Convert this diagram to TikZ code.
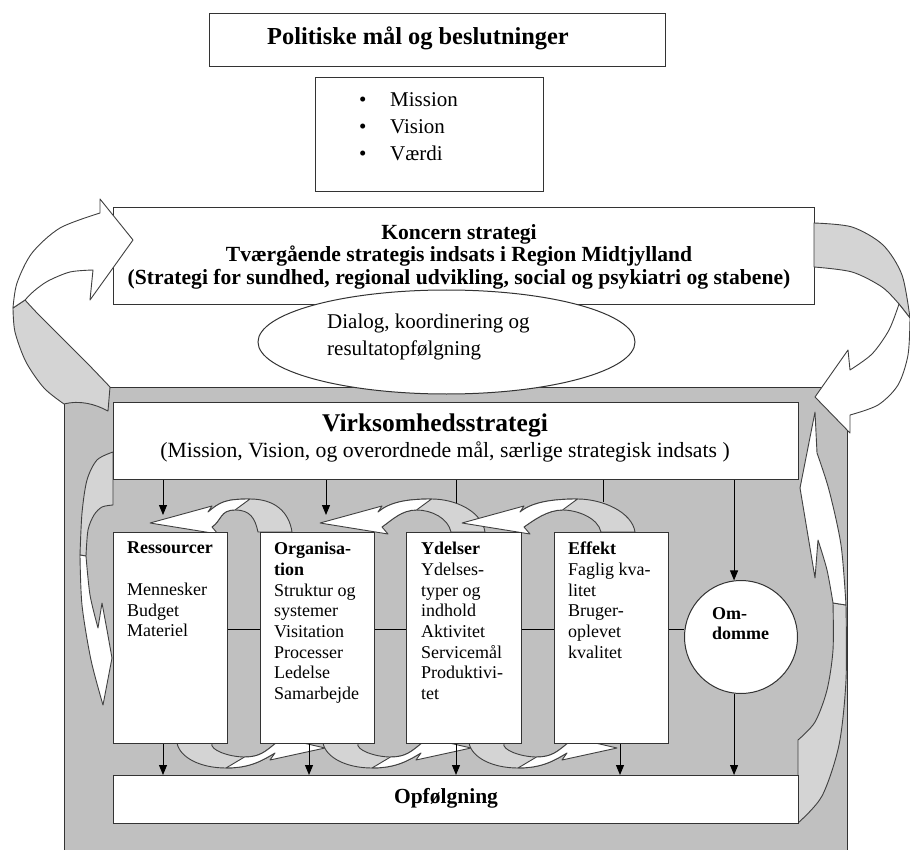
\documentclass[tikz,border=0pt]{standalone}
\usepackage{fontspec}
\setmainfont{Liberation Serif}
\usetikzlibrary{arrows.meta,shapes.geometric}
\definecolor{bggray}{HTML}{C0C0C0}
\definecolor{ltgray}{HTML}{D4D4D4}
\definecolor{lineclr}{HTML}{333333}
\definecolor{edgeclr}{HTML}{404040}
\begin{document}
\begin{tikzpicture}[x=1pt,y=-1pt,
  box/.style={draw=lineclr,fill=white,line width=1.4pt,rectangle,inner sep=0pt},
  bt/.style={font=\fontsize{18}{20.7}\selectfont,align=left,inner sep=0pt,anchor=north west},
  arr/.style={draw=black,line width=1pt,-{Triangle[width=8pt,length=10pt]}},
  ln/.style={draw=black,line width=1pt},
  under/.style={fill=ltgray,draw=edgeclr,line width=0.9pt,line join=round},
  face/.style={fill=white,draw=edgeclr,line width=0.9pt,line join=round}]
\useasboundingbox (0,0) rectangle (910,850);

% grey frame
\node[draw=lineclr,fill=bggray,line width=1.4pt,minimum width=783pt,minimum height=470pt,anchor=north west,inner sep=0pt] (frame) at (64,387) {};

% inner left arrow
\path[under] plot[smooth] coordinates {(113,452) (97,460) (87,480) (82,513) (80,555)} -- (86,556) -- plot[smooth] coordinates {(86,556) (88,530) (94,515) (102,507) (113,505)} -- cycle;
\path[face] plot[smooth] coordinates {(80,555) (82,605) (91,660) (103,705)} -- (112,658) -- (107,630) -- (102,603) -- (98,628) -- plot[smooth] coordinates {(98,628) (90,595) (86,556)} -- cycle;

% inner right arrow
\path[under] plot[smooth] coordinates {(798,823) (822,796) (839,745) (846,680) (846,605)} -- (833,603) -- plot[smooth] coordinates {(833,603) (833,650) (827,690) (815,722) (798,740)} -- cycle;
\path[face] plot[smooth] coordinates {(846,605) (841,545) (829,490) (817,453)} -- (815,412) -- (800,488) -- (815,578) -- (818,540) -- plot[smooth] coordinates {(818,540) (827,570) (833,603)} -- cycle;

% small curved arrows (top)
\foreach \mtx/\mfo in {150/292,320/485,462/635}{
  \pgfmathsetmacro\myfi{\mfo-34}
  \pgfmathsetmacro\myao{(\mtx+58+\mfo)/2}
  \pgfmathsetmacro\myai{(\mtx+62+\myfi)/2}
  \path[under] (\mtx+58,512) .. controls (\mtx+70,502) and (\myao-25,499) .. (\myao,499) .. controls (\myao+25,499) and (\mfo-3,512) .. (\mfo,532) -- (\myfi,532) .. controls (\myfi-3,518) and (\myai+15,510) .. (\myai,510) .. controls (\myai-15,510) and (\mtx+72,520) .. (\mtx+62,527) -- cycle;
  \path[face] (\mtx+58,512) .. controls (\mtx+70,502) and (\myao-25,499) .. (\myao,499) -- (\myai,510) .. controls (\myai-15,510) and (\mtx+72,520) .. (\mtx+62,527) -- (\mtx+68,534) -- (\mtx,523) -- (\mtx+62,506) -- cycle;
}
% small curved arrows (bottom)
\foreach \mtx in {325,471,617}{
  \pgfmathsetmacro\mfo{\mtx-148}
  \pgfmathsetmacro\myfi{\mtx-113}
  \pgfmathsetmacro\myao{(\mfo+\mtx-50)/2}
  \pgfmathsetmacro\myai{(\myfi+\mtx-48)/2}
  \path[under] (\mfo,743) .. controls (\mfo+3,758) and (\myao-25,768) .. (\myao,768) .. controls (\myao+25,768) and (\mtx-62,760) .. (\mtx-50,753) -- (\mtx-48,742) .. controls (\mtx-60,752) and (\myai+15,757) .. (\myai,757) .. controls (\myai-15,757) and (\myfi-3,750) .. (\myfi,743) -- cycle;
  \path[face] (\myao,768) .. controls (\myao+25,768) and (\mtx-62,760) .. (\mtx-50,753) -- (\mtx-55,760) -- (\mtx,748) -- (\mtx-52,736) -- (\mtx-48,742) .. controls (\mtx-60,752) and (\myai+15,757) .. (\myai,757) -- cycle;
}

% Virksomhedsstrategi
\node[box,minimum width=685pt,minimum height=77pt,anchor=north west] (vs) at (113,402) {};
\node[font=\fontsize{25.5}{28}\selectfont\bfseries] (vst) at (435,425) {Virksomhedsstrategi};
\node[font=\fontsize{21.7}{24}\selectfont] (vss) at (445,452) {(Mission, Vision, og overordnede mål, særlige strategisk indsats )};

% four boxes
\node[box,minimum width=114pt,minimum height=211pt,anchor=north west] (res) at (113,532) {};
\node[bt] (rest) at (127,542) {\textbf{Ressourcer}\\~\\Mennesker\\Budget\\Materiel};
\node[box,minimum width=114pt,minimum height=211pt,anchor=north west] (org) at (260,532) {};
\node[bt] (orgt) at (274,542) {\textbf{Organisa-}\\\textbf{tion}\\Struktur og\\systemer\\Visitation\\Processer\\Ledelse\\Samarbejde};
\node[box,minimum width=115pt,minimum height=211pt,anchor=north west] (ydel) at (406,532) {};
\node[bt] (ydelt) at (421,542) {\textbf{Ydelser}\\Ydelses-\\typer og\\indhold\\Aktivitet\\Servicemål\\Produktivi-\\tet};
\node[box,minimum width=114pt,minimum height=211pt,anchor=north west] (eff) at (554,532) {};
\node[bt] (efft) at (568,542) {\textbf{Effekt}\\Faglig kva-\\litet\\Bruger-\\oplevet\\kvalitet};

% circle
\node[draw=lineclr,fill=white,circle,minimum size=113pt,inner sep=0pt,line width=1pt] (om) at (741,637) {};
\node[bt,font=\fontsize{18}{20.7}\selectfont\bfseries] (omt) at (712,607) {Om-\\domme};

% Opfoelgning
\node[box,minimum width=685pt,minimum height=48pt,anchor=north west] (opf) at (113,775) {};
\node[font=\fontsize{21.5}{24}\selectfont\bfseries] (opft) at (446,798) {Opfølgning};

% connectors
\coordinate (hy) at (0,629);
\draw[ln] (res.east |- hy) -- (org.west |- hy);
\draw[ln] (org.east |- hy) -- (ydel.west |- hy);
\draw[ln] (ydel.east |- hy) -- (eff.west |- hy);
\draw[ln] (eff.east |- hy) -- (om.west |- hy);

\coordinate (t1) at (163,515);
\coordinate (t2) at (326,515);
\coordinate (t3) at (456,503);
\coordinate (t4) at (603,502);
\draw[arr] (vs.south -| t1) -- (t1);
\draw[arr] (vs.south -| t2) -- (t2);
\draw[ln] (vs.south -| t3) -- (t3);
\draw[ln] (vs.south -| t4) -- (t4);
\draw[arr] (vs.south -| om.97) -- (om.97);

\coordinate (b1) at (163,0);
\coordinate (b2) at (309,0);
\coordinate (b3) at (456,0);
\coordinate (b4) at (620,0);
\draw[arr] (res.south -| b1) -- (opf.north -| b1);
\draw[arr] (org.south -| b2) -- (opf.north -| b2);
\draw[arr] (ydel.south -| b3) -- (opf.north -| b3);
\draw[arr] (eff.south -| b4) -- (opf.north -| b4);
\draw[arr] (om.263) -- (opf.north -| om.263);

% Koncern strategi
\node[box,minimum width=701pt,minimum height=97pt,anchor=north west] (kon) at (113,207) {};
\node[font=\fontsize{21.6}{22.5}\selectfont\bfseries,align=center] (kont) at (459,256.5) {Koncern strategi\\Tværgående strategis indsats i Region Midtjylland\\(Strategi for sundhed, regional udvikling, social og psykiatri og stabene)};

% ellipse
\node[draw=lineclr,fill=white,ellipse,minimum width=377pt,minimum height=104pt,inner sep=0pt,line width=1pt] (dia) at (446.5,342) {};
\node[font=\fontsize{21}{27}\selectfont,align=left,anchor=west,inner sep=0pt] (diat) at (327,337) {Dialog, koordinering og\\resultatopfølgning};

% big left arrow
\path[under] plot[smooth] coordinates {(13,308) (15,332) (26,362) (44,388) (64,404)} .. controls (80,400) and (95,404) .. (108,411) -- (110,387) -- plot[smooth] coordinates {(110,387) (88,364) (60,336) (38,314) (25,300)} -- cycle;
\path[face] plot[smooth] coordinates {(13,308) (17,283) (32,253) (60,228) (100,213)} -- (100,199) -- (133,240) -- (90,300) -- (93,270) -- plot[smooth] coordinates {(93,270) (70,272) (48,281) (34,291) (25,300)} -- cycle;

% big right arrow
\path[under] plot[smooth] coordinates {(814,223) (852,227) (883,245) (902,275) (910,318)} -- (899,304) -- plot[smooth] coordinates {(899,304) (882,287) (852,272) (814,267)} -- cycle;
\path[face] plot[smooth] coordinates {(899,304) (889,330) (872,354) (850,370)} -- (848,350) -- (815,397) -- (850,433) -- (850,415) -- plot[smooth] coordinates {(850,415) (878,405) (898,385) (908,355) (910,318)} -- cycle;

% top boxes
\node[box,minimum width=456pt,minimum height=53pt,anchor=north west] (pol) at (209,13) {};
\node[font=\fontsize{24.4}{28}\selectfont\bfseries] (polt) at (418,38) {Politiske mål og beslutninger};
\node[box,minimum width=228pt,minimum height=114pt,anchor=north west] (val) at (315,77) {};
\node[font=\fontsize{21}{27}\selectfont,align=left,anchor=west,inner sep=0pt] (valt) at (359,127) {\makebox[31pt][l]{\textbullet}Mission\\\makebox[31pt][l]{\textbullet}Vision\\\makebox[31pt][l]{\textbullet}Værdi};
\end{tikzpicture}
\end{document}
